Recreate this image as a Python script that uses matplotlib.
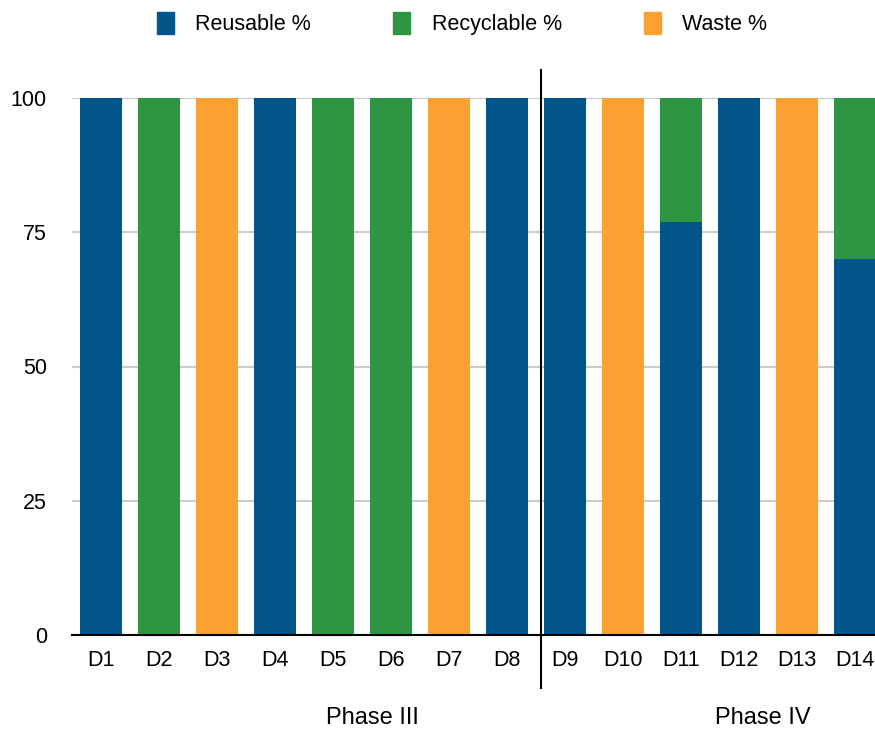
import numpy as np
import matplotlib
matplotlib.use("Agg")
import matplotlib.pyplot as plt
from matplotlib.patches import Patch

plt.rcParams['font.family'] = ['Liberation Sans', 'DejaVu Sans']

days = ['D1', 'D2', 'D3', 'D4', 'D5', 'D6', 'D7', 'D8',
        'D9', 'D10', 'D11', 'D12', 'D13', 'D14']
reusable = [100, 0, 0, 100, 0, 0, 0, 100, 100, 0, 77, 100, 0, 70]
recyclable = [0, 100, 0, 0, 100, 100, 0, 0, 0, 0, 23, 0, 0, 30]
waste = [0, 0, 100, 0, 0, 0, 100, 0, 0, 100, 0, 0, 100, 0]
series_names = ['Reusable %', 'Recyclable %', 'Waste %']
phases = ['Phase III', 'Phase IV']
yticks = [0, 25, 50, 75, 100]

colors = ['#02558b', '#2e9642', '#fba131']

fig = plt.figure(figsize=(8.75, 7.31), dpi=100)
ax = fig.add_axes([72/875, 96/731, 1 - 72/875, (635-98)/731])

x = np.arange(len(days))
w = 0.72
r = np.array(reusable)
c = np.array(recyclable)
wa = np.array(waste)
ax.bar(x, r, w, color=colors[0], zorder=2)
ax.bar(x, c, w, bottom=r, color=colors[1], zorder=2)
ax.bar(x, wa, w, bottom=r + c, color=colors[2], zorder=2)

ax.set_xlim(-0.5, 13.34)
ax.set_ylim(0, 100)
ax.set_yticks(yticks)
ax.set_yticklabels([str(v) for v in yticks], fontsize=15.5)
ax.set_xticks(x)
ax.set_xticklabels(days, fontsize=15.5)
ax.tick_params(axis='both', length=0)
ax.tick_params(axis='y', pad=18)
ax.tick_params(axis='x', pad=11)
ax.yaxis.grid(True, color='#cccccc', lw=1.5, zorder=0)
for s in ['top', 'right', 'left']:
    ax.spines[s].set_visible(False)
ax.spines['bottom'].set_linewidth(1.5)
ax.spines['bottom'].set_zorder(3)

# phase divider
ax.plot([7.59, 7.59], [105.2, -9.9], color='black', lw=1.5, clip_on=False, zorder=4)
ax.text(4.67, -15.5, phases[0], ha='center', va='center', fontsize=17, clip_on=False)
ax.text(11.41, -15.5, phases[1], ha='center', va='center', fontsize=17, clip_on=False)

handles = [Patch(color=col) for col in colors]
fig.legend(handles, series_names, loc='center', bbox_to_anchor=(0.528, 0.968),
           ncol=3, frameon=False, fontsize=15.5, handlelength=0.8, handleheight=1.2,
           columnspacing=3.8, handletextpad=1.0)

fig.savefig('out.png', dpi=100)
